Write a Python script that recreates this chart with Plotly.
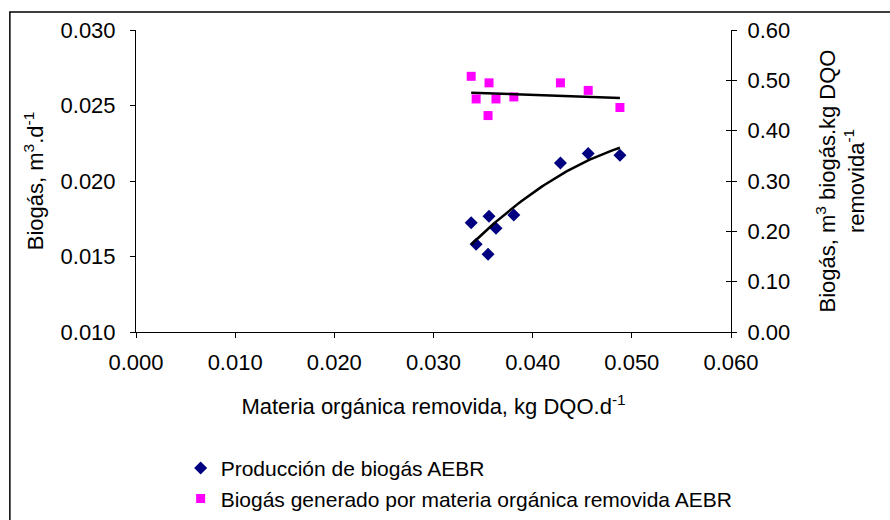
import numpy as np
import plotly.graph_objects as go

# Organic matter removed (kg DQO/d)
materia_removida = [0.0338, 0.0343, 0.0355, 0.0356, 0.0363, 0.0381, 0.0428, 0.0456, 0.0488]
# Biogas production (m3/d)
produccion_biogas = [0.01724, 0.01581, 0.01515, 0.01766, 0.01687, 0.01775, 0.02120, 0.02182, 0.02170]
# Biogas per organic matter removed (m3 biogas / kg DQO removed)
biogas_por_dqo = [0.508, 0.463, 0.430, 0.495, 0.463, 0.467, 0.495, 0.480, 0.446]

x_ticks = [0.000, 0.010, 0.020, 0.030, 0.040, 0.050, 0.060]
y1_ticks = [0.010, 0.015, 0.020, 0.025, 0.030]
y2_ticks = [0.0, 0.1, 0.2, 0.3, 0.4, 0.5, 0.6]

FONT = "Liberation Sans, Arial, sans-serif"

# Trendlines: 2nd order polynomial for production, linear for specific yield
xs = np.linspace(min(materia_removida), max(materia_removida), 60)
poly_prod = np.polyfit(materia_removida, produccion_biogas, 2)
poly_esp = np.polyfit(materia_removida, biogas_por_dqo, 1)

fig = go.Figure()
fig.add_trace(go.Scatter(
    x=materia_removida, y=produccion_biogas, mode="markers",
    name="Producción de biogás AEBR",
    marker=dict(symbol="diamond", size=10, color="#000080"),
    yaxis="y"))
fig.add_trace(go.Scatter(
    x=materia_removida, y=biogas_por_dqo, mode="markers",
    name="Biogás generado por materia orgánica removida AEBR",
    marker=dict(symbol="square", size=9, color="#FF00FF"),
    yaxis="y2"))
fig.add_trace(go.Scatter(
    x=xs, y=np.polyval(poly_prod, xs), mode="lines",
    line=dict(color="black", width=2.5), showlegend=False, yaxis="y"))
fig.add_trace(go.Scatter(
    x=xs, y=np.polyval(poly_esp, xs), mode="lines",
    line=dict(color="black", width=2.5), showlegend=False, yaxis="y2"))
# invisible trace to carry the inward tick marks of the right axis
fig.add_trace(go.Scatter(x=[None], y=[None], yaxis="y3", showlegend=False))

fig.update_layout(
    width=890, height=520,
    margin=dict(l=136, r=159, t=30, b=188, autoexpand=False),
    paper_bgcolor="white", plot_bgcolor="white",
    font=dict(family=FONT, size=22, color="black"),
    showlegend=True,
    legend=dict(
        x=0.075, y=-0.384, xanchor="left", yanchor="top",
        font=dict(family=FONT, size=21, color="black"),
        itemwidth=30, tracegroupgap=0, bgcolor="rgba(0,0,0,0)"),
    xaxis=dict(
        range=[0, 0.060], tickvals=x_ticks, tickformat=".3f",
        showline=True, linecolor="black", linewidth=1,
        ticks="outside", ticklen=5, tickcolor="black", ticklabelstandoff=6,
        showgrid=False, zeroline=False,
        title=dict(text="Materia orgánica removida, kg DQO.d<sup>-1</sup>",
                   font=dict(size=22), standoff=24)),
    yaxis=dict(
        range=[0.010, 0.030], tickvals=y1_ticks, tickformat=".3f",
        showline=True, linecolor="black", linewidth=1,
        ticks="outside", ticklen=5, tickcolor="black", ticklabelstandoff=10,
        showgrid=False, zeroline=False,
        title=dict(text="Biogás, m<sup>3</sup>.d<sup>-1</sup>",
                   font=dict(size=22), standoff=10)),
    yaxis2=dict(
        range=[0, 0.6], tickvals=y2_ticks, tickformat=".2f",
        overlaying="y", side="right", anchor="x",
        showline=True, linecolor="black", linewidth=1,
        ticks="outside", ticklen=5, tickcolor="black", ticklabelstandoff=6,
        showgrid=False, zeroline=False,
        title=dict(text="Biogás, m<sup>3</sup> biogás.kg DQO<br>removida<sup>-1</sup>",
                   font=dict(size=22), standoff=30)),
    yaxis3=dict(
        range=[0, 0.6], tickvals=y2_ticks, overlaying="y", side="right",
        anchor="x", showticklabels=False, ticks="inside", ticklen=5,
        tickcolor="black", showline=False, showgrid=False, zeroline=False),
    shapes=[dict(type="rect", xref="paper", yref="paper",
                 x0=-0.212, x1=1.3, y0=-0.7, y1=1.06,
                 line=dict(color="black", width=1.5), fillcolor="rgba(0,0,0,0)",
                 layer="below")],
)

fig.write_html("out.html")
